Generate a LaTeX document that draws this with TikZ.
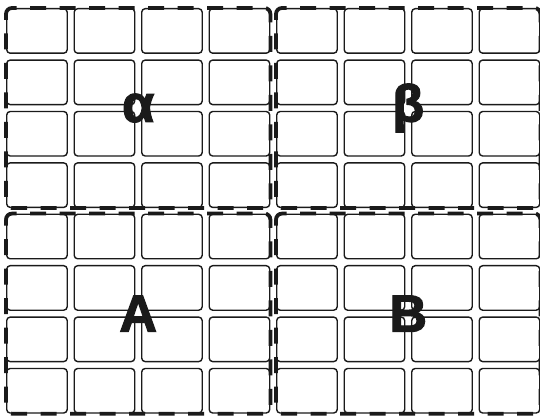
\documentclass[tikz,border=0pt]{standalone}
\usepackage{fontspec}
\setmainfont{Liberation Sans}
\newfontfamily\heavyfont[FakeBold=2.5]{Liberation Sans Bold}
\usetikzlibrary{calc}
\definecolor{ink}{HTML}{1A1A1A}
\tikzset{
  cell/.style={draw=ink, line width=1.4pt, rounded corners=3.5pt, minimum width=60.5pt, minimum height=44.5pt, inner sep=0pt, anchor=north west},
  quadborder/.style={draw=ink, line width=3.8pt, dash pattern=on 16pt off 13.5pt, dash phase=10pt, rounded corners=6pt},
  biglabel/.style={font=\heavyfont\fontsize{52}{52}\selectfont, text=ink, inner sep=0pt}
}
\begin{document}
\begin{tikzpicture}[x=1pt,y=-1pt]
\useasboundingbox (0,0) rectangle (540,419);
\fill[white] (0,0) rectangle (540,419);
\foreach \i in {0,...,7}{
  \foreach \j in {0,...,7}{
    \node[cell] (c-\i-\j) at ({6+\i*67.5},{8+\j*51.4}) {};
  }
}
% quadrant borders
\draw[quadborder] (c-0-0.north west) rectangle (c-3-3.south east);
\draw[quadborder] (c-4-0.north west) rectangle (c-7-3.south east);
\draw[quadborder] (c-0-4.north west) rectangle (c-3-7.south east);
\draw[quadborder] (c-4-4.north west) rectangle (c-7-7.south east);
% labels
\node[biglabel] (la) at ($(c-0-0.north west)!0.5!(c-3-3.south east)$) {α};
\node[biglabel] (lb) at ($(c-4-0.north west)!0.5!(c-7-3.south east)$) {β};
\node[biglabel] (lA) at ($(c-0-4.north west)!0.5!(c-3-7.south east)$) {A};
\node[biglabel] (lB) at ($(c-4-4.north west)!0.5!(c-7-7.south east)$) {B};
\end{tikzpicture}
\end{document}
